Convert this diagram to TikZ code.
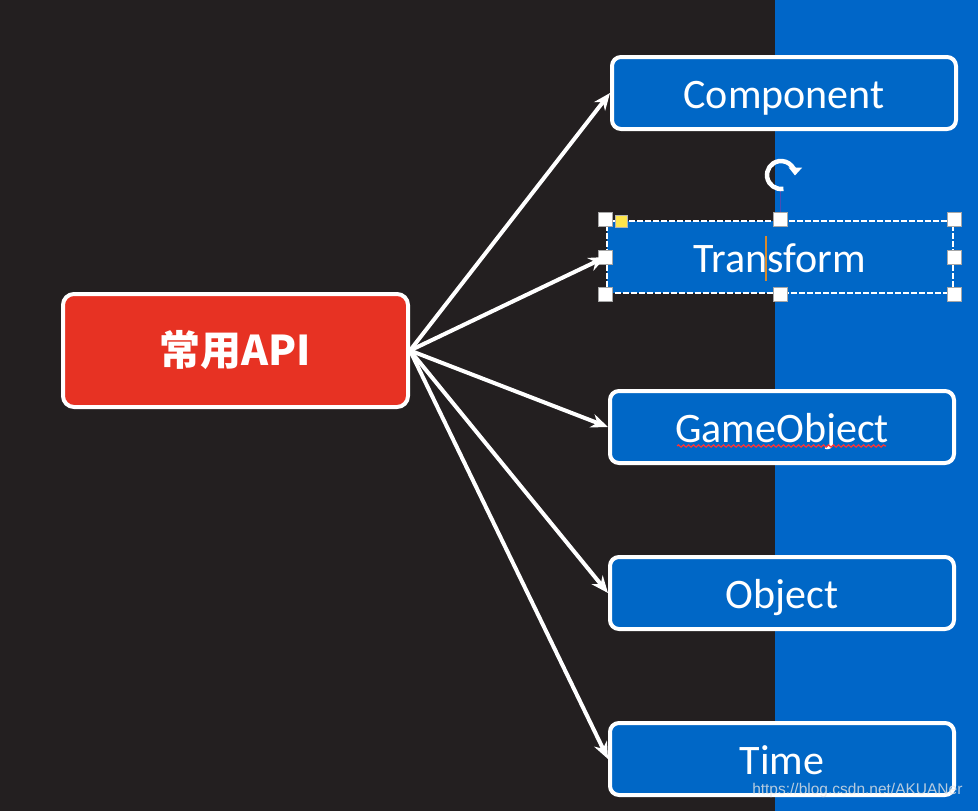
\documentclass[tikz,border=0pt]{standalone}
\usepackage{fontspec}
\setmainfont{Carlito}
\newfontfamily\cjkfont{Noto Sans CJK SC}[BoldFont={* Black}]
\newfontfamily\wmfont{Liberation Sans}
\usetikzlibrary{arrows.meta,decorations.pathmorphing}
\definecolor{darkbg}{HTML}{231F20}
\definecolor{bluebg}{HTML}{0066C8}
\definecolor{boxblue}{HTML}{0067C6}
\definecolor{apired}{HTML}{E73223}
\definecolor{cursor}{HTML}{D98A2B}
\tikzset{
  x=1pt,y=-1pt,
  apibox/.style={rectangle,rounded corners=11pt,draw=white,line width=4pt,fill=apired,
    minimum width=345pt,minimum height=113pt,text=white,font=\cjkfont\bfseries\fontsize{41}{44}\selectfont},
  boxtext/.style={text=white,font=\fontsize{42}{46}\selectfont,text height=30pt,text depth=0pt},
  classbox/.style={rectangle,rounded corners=9pt,draw=white,line width=4pt,fill=boxblue,
    minimum width=344pt,minimum height=72pt,boxtext},
  selbox/.style={rectangle,draw=white,line width=2.5pt,dash pattern=on 6pt off 2pt,fill=boxblue,
    minimum width=346pt,minimum height=72pt,boxtext},
  handle/.style={rectangle,draw=gray!70,line width=0.8pt,fill=white,minimum size=14pt,inner sep=0pt},
  yhandle/.style={rectangle,draw=gray!60,line width=0.6pt,fill=yellow!80!orange!70,minimum size=12pt,inner sep=0pt},
  link/.style={draw=white,line width=4pt,-{Stealth[length=17pt,width=14pt]}},
}
\begin{document}
\begin{tikzpicture}
\useasboundingbox (0,0) rectangle (978,811);
\fill[darkbg] (0,0) rectangle (978,811);
\fill[bluebg] (775,0) rectangle (978,811);

\node[apibox] (api) at (235.5,350.5) {常用API};
\node[classbox] (comp) at (784,93) {Component};
\node[selbox] (trans) at (780,257) {Transform};
\node[classbox] (go) at (782,427) {GameObject};
\node[classbox] (obj) at (782,593) {Object};
\node[classbox] (time) at (782,759) {Time};

% spell-check underline
\draw[red!80!white,line width=1.2pt,decorate,decoration={snake,amplitude=1.2pt,segment length=5pt}]
  (677,446) -- (886,446);

% selection handles
\node[handle] (h1) at (trans.north west) {};
\node[handle] (h2) at (trans.north) {};
\node[handle] (h3) at (trans.north east) {};
\node[handle] (h4) at (trans.west) {};
\node[handle] (h5) at (trans.east) {};
\node[handle] (h6) at (trans.south west) {};
\node[handle] (h7) at (trans.south) {};
\node[handle] (h8) at (trans.south east) {};
\node[yhandle] (yh) at (621,221) {};
% rotation handle
\coordinate (rot) at (781,175);
\draw[gray!60!blue,line width=1pt] (780,190) -- (h2.north);
\draw[white,line width=4.5pt,-{Triangle[length=8pt,width=13pt]}] (rot) ++(-80:14pt) arc[start angle=-80,end angle=-362,radius=14pt];
% text cursor
\draw[cursor,line width=1.3pt] (766,236) -- (766,281);

% connectors
\draw[link] (api.east) -- (comp.west);
\draw[link] (api.east) -- (trans.west);
\draw[link] (api.east) -- (go.west);
\draw[link] (api.east) -- (obj.west);
\draw[link] (api.east) -- (time.west);

\node[text=white!80!gray,opacity=0.8,font=\wmfont\fontsize{15.5}{18}\selectfont,anchor=east] (wm) at (966,790) {https://blog.csdn.net/AKUANer};
\end{tikzpicture}
\end{document}
